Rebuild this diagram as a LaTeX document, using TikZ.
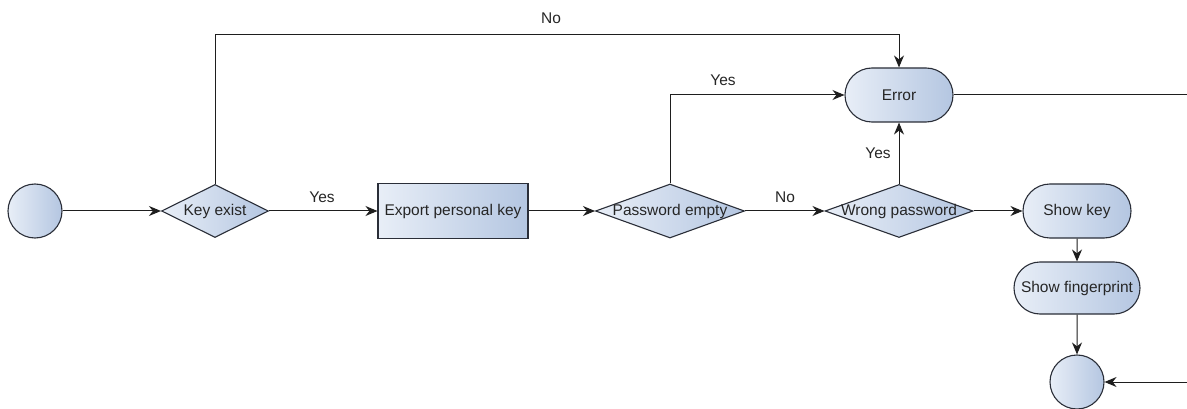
\documentclass[tikz,border=0pt]{standalone}
\usepackage{fontspec}
\setmainfont{Liberation Sans}
\usetikzlibrary{shapes.geometric,shapes.misc,arrows.meta}
\definecolor{lineclr}{HTML}{1E1E1E}
\definecolor{fillA}{HTML}{E8EEF7}
\definecolor{fillB}{HTML}{B4C6E1}
\definecolor{edgeclr}{HTML}{2A2E38}
\newcommand{\zw}[1]{\makebox[0pt]{#1}}
\tikzset{
  shapebase/.style={draw=edgeclr, line width=1.1pt, left color=fillA, right color=fillB,
    font=\fontsize{15.5}{17}\selectfont, text=black!85, inner sep=0pt},
  startend/.style={shapebase, circle, minimum size=54pt},
  decision/.style={shapebase, diamond, aspect=2.8},
  actbox/.style={shapebase, rectangle, minimum width=150pt, minimum height=55pt},
  actround/.style={shapebase, rounded rectangle, minimum height=54pt},
  flow/.style={draw=lineclr, line width=1pt, -{Stealth[length=12pt,width=10pt]}},
  lbl/.style={font=\fontsize{15.5}{17}\selectfont, text=black!85, inner sep=1pt}
}
\begin{document}
\begin{tikzpicture}[x=1pt,y=-1pt]
\useasboundingbox (0,0) rectangle (1187,409);
\fill[white] (0,0) rectangle (1187,409);

% nodes (diamond labels are zero-width so they may spill over the outline)
\node[startend] (start) at (35,211) {};
\node[decision, minimum width=107pt, minimum height=53pt] (keyex) at (215,211) {\zw{Key exist}};
\node[actbox] (export) at (453,211) {Export personal key};
\node[decision, minimum width=149pt, minimum height=54pt] (pwempty) at (670,211) {\zw{Password empty}};
\node[decision, minimum width=148pt, minimum height=53pt] (wrongpw) at (899,211) {\zw{Wrong password}};
\node[actround, minimum width=108pt] (error) at (899,95) {Error};
\node[actround, minimum width=108pt] (showkey) at (1077,211) {Show key};
\node[actround, minimum width=126pt, minimum height=52pt] (showfp) at (1077,288) {Show fingerprint};
\node[startend] (finish) at (1077,382) {};

% corner points of the routed connectors
\coordinate (noA) at (215,35);
\coordinate (noB) at (899,35);
\coordinate (yesA) at (670,95);
\coordinate (errR) at (1190,95);
\coordinate (endR) at (1190,382);

% connectors
\draw[flow] (start) -- (keyex);
\draw[flow] (keyex) -- (export);
\draw[flow] (export) -- (pwempty);
\draw[flow] (pwempty) -- (wrongpw);
\draw[flow] (wrongpw) -- (showkey);
\draw[flow] (wrongpw) -- (error);
\draw[flow] (showkey) -- (showfp);
\draw[flow] (showfp) -- (finish);
\draw[flow] (keyex.north) -- (noA) -- (noB) -- (error.north);
\draw[flow] (pwempty.north) -- (yesA) -- (error.west);
\draw[flow] (error.east) -- (errR) -- (endR) -- (finish.east);

% labels
\node[lbl] (lno1) at (551,18) {No};
\node[lbl] (lyes1) at (322,197) {Yes};
\node[lbl] (lyes2) at (723,80) {Yes};
\node[lbl] (lno2) at (785,197) {No};
\node[lbl] (lyes3) at (878,153) {Yes};
\end{tikzpicture}
\end{document}
